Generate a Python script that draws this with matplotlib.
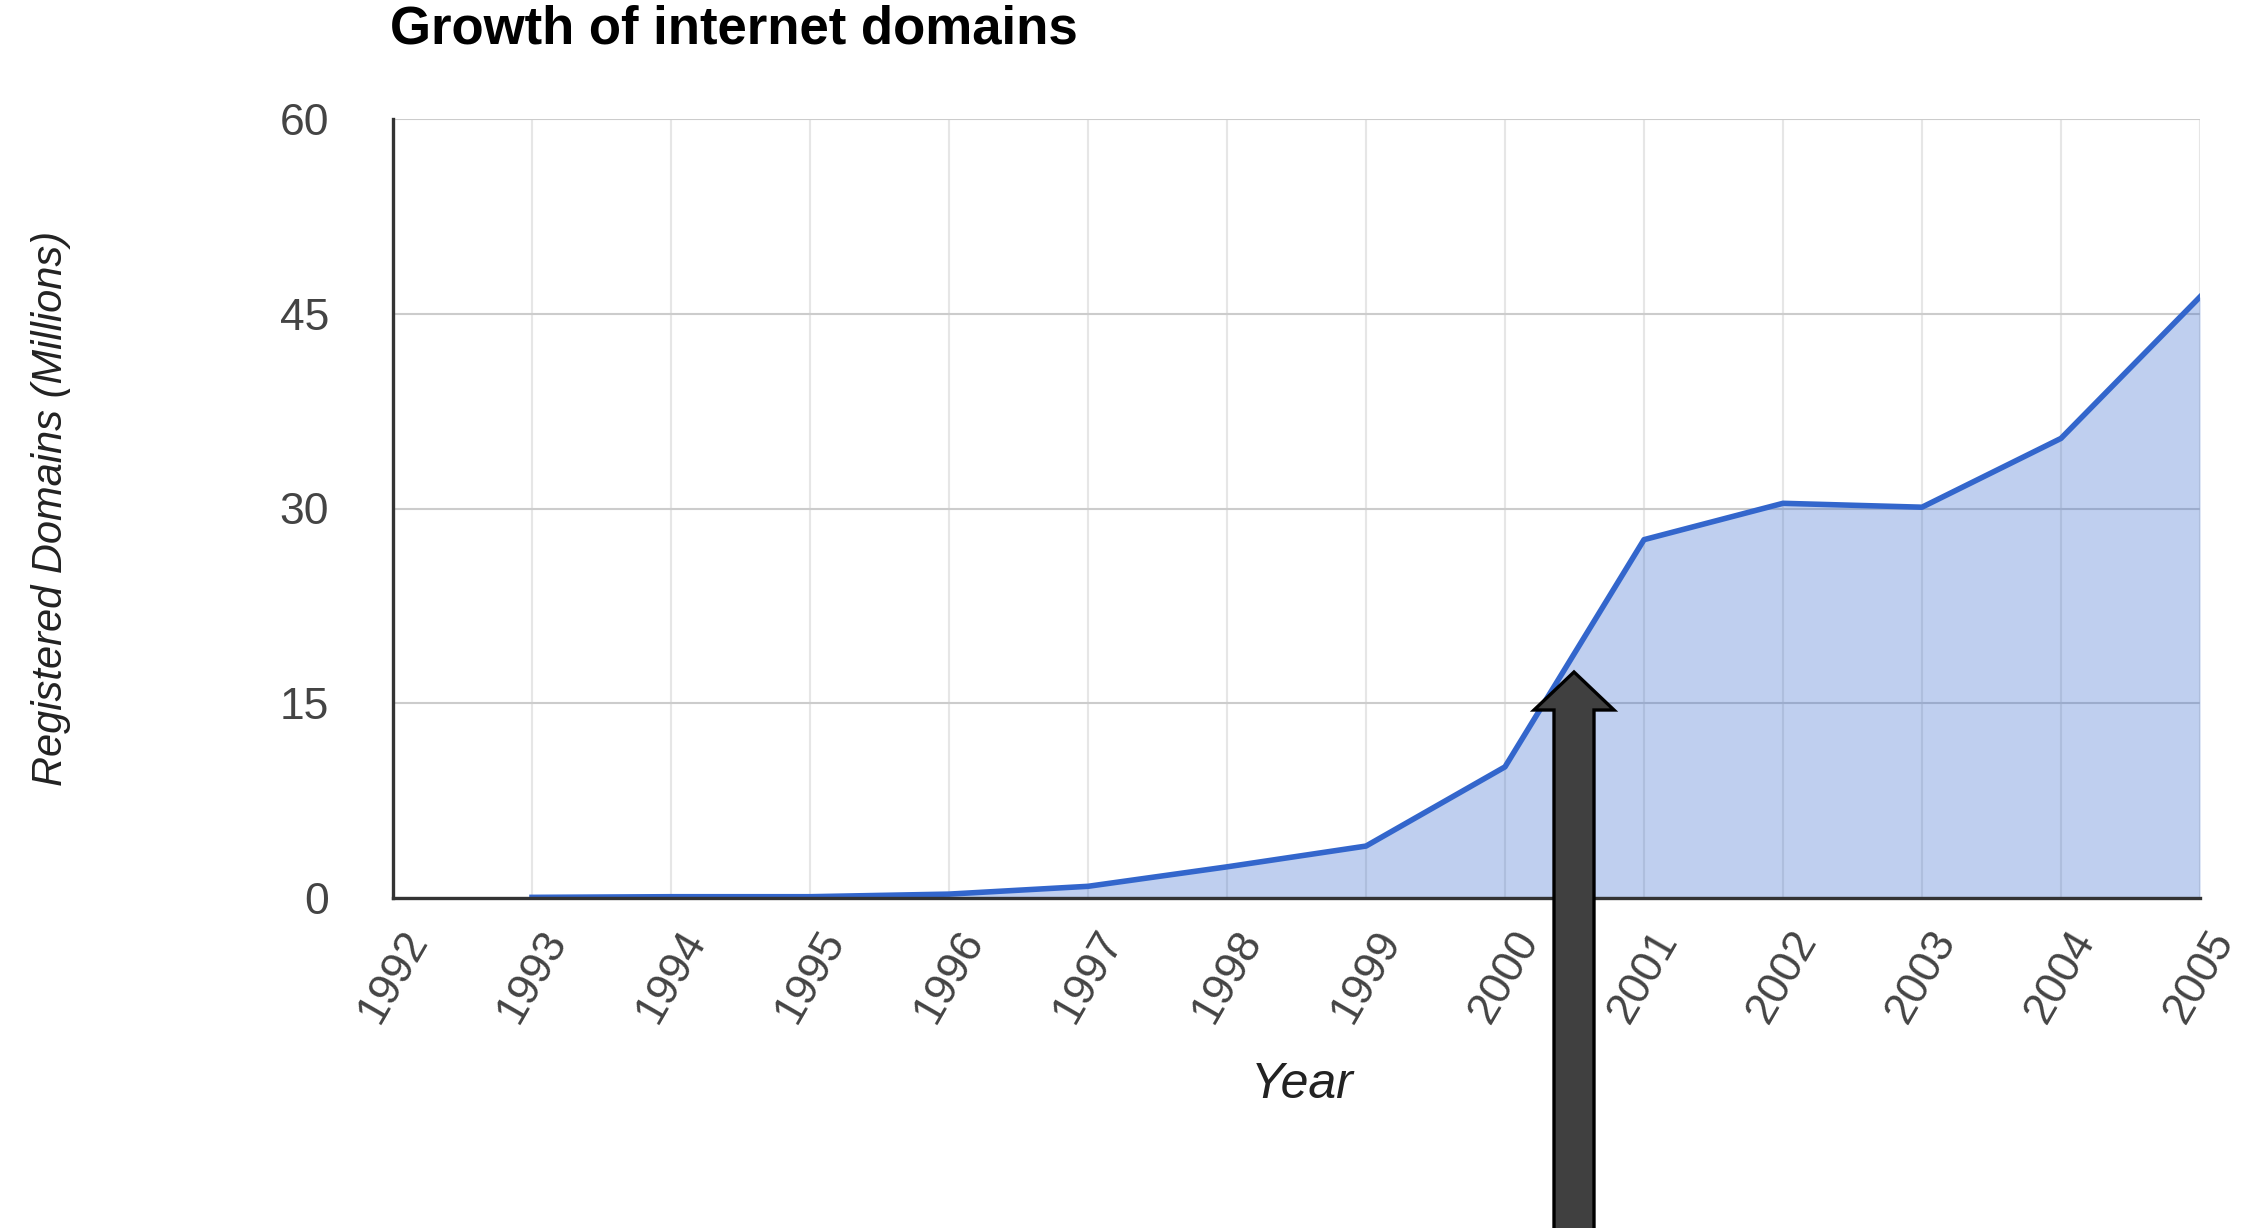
import matplotlib
matplotlib.use("Agg")
import matplotlib.pyplot as plt
from matplotlib.patches import Polygon

# data
years = [1993, 1994, 1995, 1996, 1997, 1998, 1999, 2000, 2001, 2002, 2003, 2004, 2005]
domains = [0.05, 0.1, 0.1, 0.3, 0.9, 2.4, 4.0, 10.1, 27.6, 30.4, 30.1, 35.4, 46.3]
year_ticks = list(range(1992, 2006))
y_ticks = [0, 15, 30, 45, 60]

W, H = 2243, 1228
plt.rcParams['font.family'] = ['Liberation Sans', 'DejaVu Sans']
fig = plt.figure(figsize=(W/100, H/100), dpi=100)
ax = fig.add_axes([393/W, 1-898/H, (2200-393)/W, (898-119)/H])

line_col = '#3366cc'
ax.fill_between(years, domains, 0, color=line_col, alpha=0.31, lw=0, zorder=2)
ax.plot(years, domains, color=line_col, lw=4, zorder=3)

ax.set_xlim(1992, 2005)
ax.set_ylim(0, 60)
ax.set_xticks(year_ticks)
ax.set_xticklabels([str(y) for y in year_ticks], rotation=60, ha='center', va='top')
ax.set_yticks(y_ticks)
ax.tick_params(axis='both', length=0, labelsize=32, labelcolor='#444444')
ax.tick_params(axis='y', pad=46)
ax.tick_params(axis='x', pad=18)

ax.grid(axis='y', color='#cccccc', lw=1.5, zorder=1)
ax.grid(axis='x', color='#e6e6e6', lw=1.5, zorder=1)
ax.set_axisbelow(True)
for s in ['top', 'right']:
    ax.spines[s].set_visible(False)
for s in ['left', 'bottom']:
    ax.spines[s].set_color('#333333')
    ax.spines[s].set_linewidth(2.4)
    ax.spines[s].set_zorder(4)

ax.set_xlabel('Year', fontsize=36, style='italic', color='#222222', va='center')
ax.xaxis.set_label_coords(0.503, -0.24)
ax.set_ylabel('Registered Domains (Millions)', fontsize=30, style='italic', color='#222222', va='center')
ax.yaxis.set_label_coords(-0.189, 0.5)

fig.text(390/W, 1-30/H, 'Growth of internet domains', fontsize=38, fontweight='bold',
         ha='left', va='center', color='black')

# the big arrow pointing at the 2000-2001 jump
tip_x, tip_y = 1574, 672
head_w, shaft_w, head_h = 80, 40, 38
pts = [(tip_x, tip_y),
       (tip_x + head_w/2, tip_y + head_h),
       (tip_x + shaft_w/2, tip_y + head_h),
       (tip_x + shaft_w/2, H + 10),
       (tip_x - shaft_w/2, H + 10),
       (tip_x - shaft_w/2, tip_y + head_h),
       (tip_x - head_w/2, tip_y + head_h)]
pts = [(x/W, 1 - y/H) for x, y in pts]
arrow = Polygon(pts, closed=True, facecolor='#404040', edgecolor='black', lw=2.4,
                transform=fig.transFigure, zorder=10)
fig.add_artist(arrow)

fig.savefig('out.png', dpi=100, facecolor='white')
